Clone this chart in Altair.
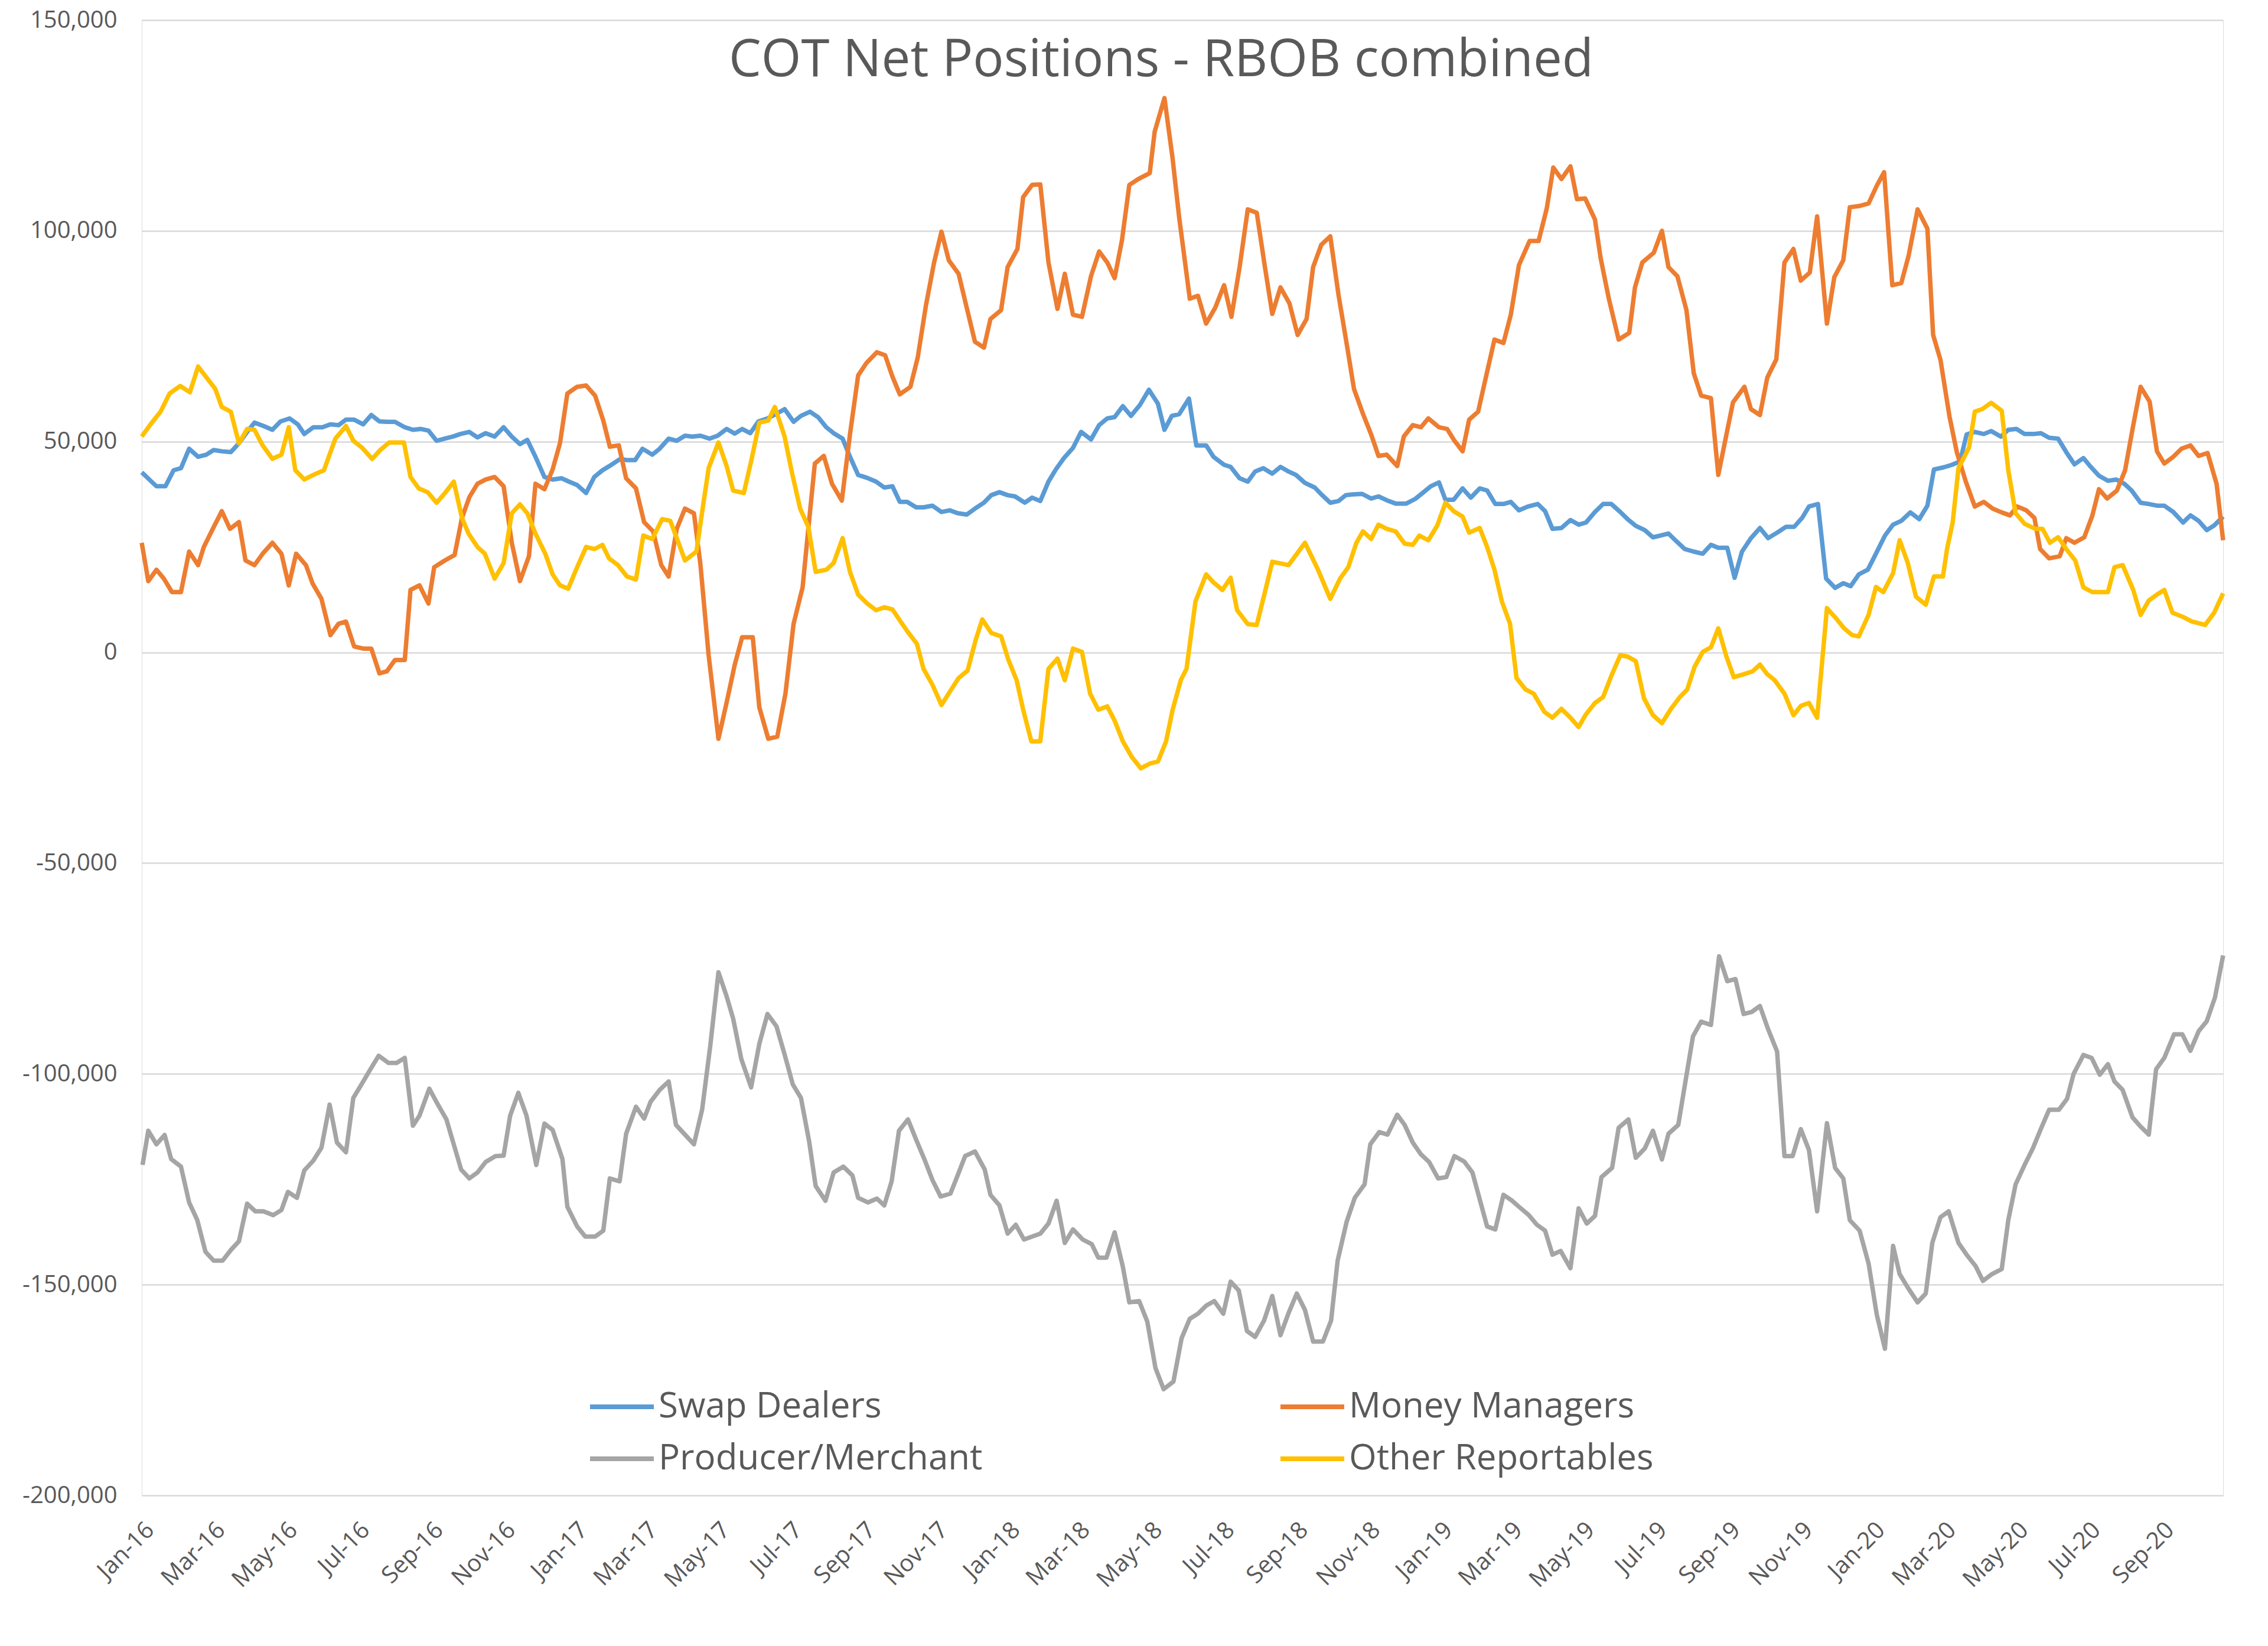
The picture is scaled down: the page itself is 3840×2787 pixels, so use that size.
import altair as alt
import pandas as pd

# Time positions are read in reporting steps from the first report (5 Jan 2016)
START = "2016-01-05"
STEP_DAYS = 6.895

TITLE = "COT Net Positions - RBOB combined"
SERIES = ["Swap Dealers", "Money Managers", "Producer/Merchant", "Other Reportables"]
COLORS = ["#5B9BD5", "#ED7D31", "#A5A5A5", "#FFC000"]
# legend fills column by column, so list it as it reads row by row in the reference
LEGEND_ORDER = ["Swap Dealers", "Producer/Merchant", "Money Managers", "Other Reportables"]

TICK_DATES = [
    "2016-01-05", "2016-03-05", "2016-05-05", "2016-07-05", "2016-09-05", "2016-11-05",
    "2017-01-05", "2017-03-05", "2017-05-05", "2017-07-05", "2017-09-05", "2017-11-05",
    "2018-01-05", "2018-03-05", "2018-05-05", "2018-07-05", "2018-09-05", "2018-11-05",
    "2019-01-05", "2019-03-05", "2019-05-05", "2019-07-05", "2019-09-05", "2019-11-05",
    "2020-01-05", "2020-03-05", "2020-05-05", "2020-07-05", "2020-09-05",
]
Y_TICKS = [-200000, -150000, -100000, -50000, 0, 50000, 100000, 150000]

SWAP = [
    (0, 42700), (1.8, 39400), (2.9, 39400), (3.9, 43200), (4.8, 43700), (5.8, 48300), (6.9, 46400),
    (7.9, 46900), (8.8, 48000), (9.8, 47700), (10.9, 47500), (11.9, 49600), (12.9, 52300), (13.8, 54500),
    (14.9, 53700), (16.0, 52800), (17.0, 54800), (18.1, 55500), (19.1, 54100), (19.9, 51800), (21.0, 53400),
    (22.1, 53400), (23.1, 54100), (24.1, 53900), (25.0, 55200), (26.0, 55200), (27.1, 54100), (28.1, 56300),
    (29.1, 54800), (30.0, 54700), (31.0, 54700), (32.2, 53400), (33.2, 52800), (34.2, 53000), (35.1, 52600),
    (36.1, 50200), (37.1, 50700), (38.1, 51200), (39.0, 51800), (40.1, 52300), (41.1, 51000), (42.1, 52000),
    (43.2, 51200), (44.3, 53400), (45.3, 51200), (46.3, 49400), (47.2, 50400), (48.2, 46400), (49.3, 41600),
    (50.3, 41000), (51.4, 41300), (52.3, 40500), (53.3, 39700), (54.4, 37800), (55.4, 41600), (56.4, 43200),
    (57.5, 44500), (58.6, 45900), (59.4, 45600), (60.4, 45600), (61.3, 48300), (62.5, 46900), (63.4, 48300),
    (64.5, 50700), (65.5, 50200), (66.5, 51400), (67.4, 51200), (68.4, 51400), (69.5, 50700), (70.5, 51400),
    (71.6, 53000), (72.6, 51900), (73.5, 53000), (74.5, 52000), (75.5, 54800), (76.6, 55500), (77.7, 56600),
    (78.7, 57700), (79.8, 54700), (80.7, 56100), (81.8, 57100), (82.8, 55800), (83.8, 53400), (84.7, 52000),
    (85.8, 50700), (86.7, 46400), (87.7, 42100), (88.8, 41400), (89.9, 40500), (90.9, 39100), (91.9, 39400),
    (92.8, 35700), (93.7, 35700), (94.8, 34400), (95.7, 34400), (96.8, 34800), (97.9, 33300), (98.9, 33700),
    (99.9, 33000), (101.0, 32700), (102.0, 34100), (103.1, 35500), (104.0, 37300), (105.0, 38000),
    (106.0, 37300), (106.9, 37000), (108.1, 35500), (109.0, 36700), (110.0, 35900), (111.0, 40500),
    (111.9, 43400), (112.9, 46100), (114.0, 48500), (115.0, 52300), (116.2, 50500), (117.2, 53900),
    (118.2, 55500), (119.1, 55800), (120.1, 58400), (121.1, 56100), (122.2, 58700), (123.3, 62300),
    (124.4, 59000), (125.2, 52800), (126.1, 56100), (127.0, 56500), (128.2, 60200), (129.1, 49100),
    (130.3, 49100), (131.2, 46400), (132.5, 44500), (133.3, 44000), (134.4, 41300), (135.4, 40500),
    (136.3, 42900), (137.3, 43700), (138.4, 42400), (139.4, 44000), (140.4, 42900), (141.3, 42100),
    (142.4, 40200), (143.6, 39100), (144.5, 37300), (145.5, 35500), (146.5, 35900), (147.4, 37300),
    (148.4, 37500), (149.4, 37600), (150.5, 36500), (151.4, 37000), (152.4, 36100), (153.5, 35300),
    (154.8, 35300), (155.9, 36400), (156.8, 37800), (157.8, 39400), (158.8, 40300), (159.6, 36200),
    (160.6, 36200), (161.7, 38900), (162.7, 36700), (163.8, 38900), (164.7, 38400), (165.7, 35200),
    (166.7, 35200), (167.6, 35700), (168.6, 33700), (169.7, 34600), (170.9, 35200), (171.8, 33500),
    (172.7, 29300), (173.8, 29500), (174.9, 31400), (175.9, 30300), (176.8, 30800), (177.9, 33300),
    (178.9, 35200), (179.9, 35200), (181.0, 33300), (181.9, 31600), (182.9, 30000), (184.0, 29000),
    (185.0, 27300), (185.9, 27700), (186.9, 28200), (187.9, 26300), (188.9, 24500), (190.0, 23900),
    (191.1, 23400), (192.1, 25500), (193.0, 24800), (194.1, 24800), (195.0, 17700), (195.9, 23900),
    (197.0, 27100), (198.1, 29500), (199.1, 27100), (200.2, 28400), (201.3, 29800), (202.3, 29800),
    (203.3, 32000), (204.1, 34600), (205.2, 35200), (206.2, 17500), (207.3, 15300), (208.3, 16400),
    (209.2, 15700), (210.2, 18500), (211.3, 19600), (212.3, 23400), (213.4, 27700), (214.4, 30300),
    (215.4, 31200), (216.5, 33200), (217.6, 31600), (218.6, 34800), (219.4, 43400), (220.6, 43900),
    (221.6, 44500), (222.6, 45300), (223.4, 51700), (224.4, 52300), (225.5, 51800), (226.4, 52500),
    (227.6, 51200), (228.5, 52800), (229.5, 53000), (230.5, 51800), (231.6, 51800), (232.5, 52000),
    (233.5, 50900), (234.6, 50700), (235.6, 47500), (236.6, 44600), (237.7, 46100), (238.6, 44000),
    (239.6, 41900), (240.7, 40700), (241.7, 41000), (242.7, 40000), (243.6, 38400), (244.7, 35500),
    (245.7, 35200), (246.7, 34800), (247.6, 34800), (248.7, 33300), (249.9, 30800), (250.8, 32500),
    (251.8, 31200), (252.8, 29000), (253.7, 30100), (254.8, 32200),
]

MONEY = [
    (0, 26000), (0.8, 16900), (1.8, 19600), (2.7, 17500), (3.7, 14300), (4.8, 14300), (5.8, 23900),
    (6.9, 20700), (7.6, 25000), (8.7, 29300), (9.8, 33500), (10.8, 29300), (11.9, 30900), (12.7, 21800),
    (13.8, 20700), (14.8, 23400), (16.0, 26000), (17.1, 23400), (18.0, 15900), (18.9, 23400), (20.1, 20700),
    (20.9, 16400), (22.0, 12700), (23.1, 4100), (24.1, 6800), (25.0, 7300), (26.0, 1400), (27.1, 900),
    (28.1, 900), (29.1, -5000), (30.0, -4500), (31.0, -1800), (32.2, -1800), (32.9, 14800), (34.0, 15900),
    (35.1, 11600), (35.8, 20200), (37.1, 21800), (38.3, 23100), (39.2, 31900), (40.1, 36800), (41.1, 40000),
    (42.1, 41000), (43.2, 41600), (44.3, 39400), (45.3, 26000), (46.3, 16900), (47.4, 22800), (48.2, 40000),
    (49.3, 38700), (50.3, 43400), (51.2, 49600), (52.1, 61400), (53.3, 63000), (54.4, 63300), (55.5, 60900),
    (56.5, 55000), (57.3, 48800), (58.4, 49100), (59.3, 41300), (60.5, 38900), (61.5, 30900), (62.6, 28700),
    (63.6, 20700), (64.5, 18000), (65.5, 29300), (66.5, 34100), (67.6, 33000), (68.4, 20700), (69.4, -700),
    (70.6, -20500), (71.6, -11900), (72.6, -2900), (73.5, 3600), (74.8, 3600), (75.6, -13000), (76.7, -20500),
    (77.8, -20000), (78.8, -9800), (79.8, 6800), (80.9, 15400), (81.6, 29300), (82.4, 44800), (83.5, 46600),
    (84.5, 40000), (85.7, 36000), (86.7, 51700), (87.7, 65700), (88.7, 68600), (90.0, 71200), (91.0, 70500),
    (91.9, 65400), (92.8, 61200), (94.1, 63000), (95.0, 70000), (96.0, 82300), (97.0, 92500), (97.9, 99800),
    (98.8, 93000), (100.0, 89800), (101.0, 81700), (102.0, 73700), (103.1, 72300), (103.9, 79100),
    (105.2, 81200), (106.0, 91400), (107.2, 95700), (107.9, 108000), (109.0, 110900), (110.0, 111000),
    (111.0, 92500), (112.1, 81500), (113.0, 89800), (114.0, 80100), (115.1, 79600), (116.2, 89200),
    (117.2, 95100), (118.2, 92500), (119.1, 88800), (120.0, 97800), (120.9, 110900), (122.0, 112300),
    (123.4, 113700), (124.0, 123500), (125.2, 131500), (126.2, 117100), (127.0, 103200), (128.3, 83900),
    (129.3, 84600), (130.3, 78000), (131.4, 81700), (132.5, 87100), (133.4, 79600), (134.4, 91400),
    (135.4, 105100), (136.5, 104300), (137.5, 91400), (138.4, 80300), (139.4, 86600), (140.5, 82800),
    (141.5, 75300), (142.6, 79100), (143.4, 91400), (144.4, 96700), (145.5, 98700), (146.5, 84900),
    (147.6, 72100), (148.4, 62500), (149.5, 56600), (150.5, 51700), (151.4, 46600), (152.4, 46900),
    (153.7, 44200), (154.5, 51200), (155.6, 53900), (156.6, 53400), (157.5, 55500), (158.8, 53400),
    (159.8, 53000), (160.7, 50200), (161.7, 47700), (162.5, 55200), (163.6, 57100), (164.6, 65700),
    (165.6, 74200), (166.7, 73400), (167.6, 80100), (168.6, 91900), (169.9, 97600), (171.0, 97600),
    (172.0, 105300), (172.8, 115000), (173.8, 112300), (174.9, 115300), (175.7, 107500), (176.7, 107700),
    (177.9, 102700), (178.6, 93500), (179.6, 83900), (180.8, 74200), (182.1, 75800), (182.8, 86600),
    (183.7, 92500), (185.1, 94800), (186.1, 100000), (186.9, 91400), (188.0, 89200), (189.1, 81200),
    (190.0, 66200), (190.9, 60900), (192.1, 60300), (193.0, 42100), (194.0, 51700), (194.8, 59300),
    (196.2, 63000), (197.0, 57700), (198.1, 56300), (199.0, 65200), (200.1, 69500), (201.1, 92500),
    (202.2, 95700), (203.1, 88200), (204.2, 90100), (205.1, 103400), (206.3, 78000), (207.2, 89000),
    (208.3, 93000), (209.1, 105600), (210.3, 105900), (211.4, 106500), (212.4, 110700), (213.3, 113900),
    (214.3, 87100), (215.4, 87600), (216.3, 94100), (217.4, 105100), (218.6, 100500), (219.3, 75300),
    (220.2, 69400), (221.3, 56000), (222.2, 47500), (223.3, 40500), (224.4, 34600), (225.5, 35700),
    (226.6, 34100), (227.7, 33200), (228.7, 32500), (229.6, 34600), (230.7, 33700), (231.7, 31900),
    (232.4, 24500), (233.5, 22300), (234.8, 22800), (235.6, 27100), (236.6, 26000), (237.8, 27300),
    (238.8, 32500), (239.6, 38700), (240.6, 36500), (241.8, 38400), (242.8, 43200), (243.8, 53900),
    (244.7, 63000), (245.8, 59500), (246.7, 47700), (247.6, 44800), (248.7, 46400), (249.7, 48300),
    (250.8, 49100), (251.8, 46600), (252.9, 47300), (254.0, 40000), (254.8, 26600),
]

PRODUCER = [
    (0.1, -121600), (0.8, -113500), (1.8, -116700), (2.8, -114500), (3.6, -120200), (4.8, -122000),
    (5.8, -130500), (6.8, -134700), (7.8, -142200), (8.8, -144300), (9.9, -144300), (10.9, -141800),
    (11.9, -139700), (12.9, -130800), (13.9, -132600), (14.9, -132600), (16.1, -133500), (17.1, -132300),
    (17.9, -128000), (19.0, -129400), (19.9, -122900), (21.0, -120600), (22.0, -117500), (23.0, -107300),
    (23.9, -116300), (25.0, -118600), (25.9, -105700), (26.9, -102500), (28.0, -98900), (29.0, -95700),
    (30.2, -97400), (31.2, -97400), (32.2, -96200), (33.2, -112300), (34.0, -109900), (35.2, -103500),
    (36.2, -107100), (37.3, -110800), (39.1, -122700), (40.1, -124800), (41.1, -123400), (42.1, -120900),
    (43.3, -119500), (44.3, -119400), (45.1, -109900), (46.1, -104500), (47.1, -109900), (48.3, -121600),
    (49.3, -111800), (50.3, -113300), (51.5, -120200), (52.1, -131500), (53.3, -136200), (54.3, -138600),
    (55.5, -138600), (56.5, -137200), (57.3, -124800), (58.5, -125500), (59.3, -114200), (60.5, -107800),
    (61.5, -110600), (62.3, -106600), (63.4, -103800), (64.5, -101800), (65.4, -112100), (66.4, -114200),
    (67.6, -116700), (68.6, -108500), (69.6, -93300), (70.6, -75900), (71.6, -81600), (72.4, -86900),
    (73.4, -96500), (74.6, -103200), (75.6, -92900), (76.6, -85800), (77.7, -88700), (78.7, -95400),
    (79.7, -102500), (80.7, -105700), (81.7, -116000), (82.5, -126600), (83.7, -130100), (84.7, -123400),
    (85.9, -122000), (87.0, -124100), (87.7, -129400), (88.9, -130500), (90.0, -129600), (90.9, -131200),
    (91.8, -125500), (92.7, -113500), (93.8, -110800), (94.8, -115600), (95.8, -120200), (96.8, -125200),
    (97.8, -129100), (99.0, -128400), (99.8, -124500), (100.8, -119500), (102.0, -118400), (103.2, -122700),
    (103.9, -128700), (105.0, -131200), (106.0, -137900), (107.0, -135800), (108.0, -139300), (110.0, -137900),
    (111.0, -135500), (112.0, -130100), (113.0, -140100), (114.0, -136900), (115.2, -139300), (116.3, -140400),
    (117.1, -143600), (118.1, -143600), (119.1, -137600), (120.1, -145700), (120.9, -154200), (122.1, -153900),
    (123.1, -158800), (124.1, -169800), (125.1, -174800), (126.3, -173000), (127.3, -162700), (128.3, -158100),
    (129.3, -156900), (130.3, -155000), (131.3, -153900), (132.4, -156900), (133.3, -149300), (134.3, -151400),
    (135.3, -161000), (136.3, -162400), (137.4, -158500), (138.4, -152700), (139.4, -162000), (140.4, -156700),
    (141.4, -152100), (142.4, -156000), (143.4, -163500), (144.6, -163500), (145.6, -158500), (146.4, -144300),
    (147.5, -135100), (148.5, -129400), (149.7, -126200), (150.4, -116700), (151.5, -113800), (152.5, -114400),
    (153.7, -109700), (154.6, -112100), (155.6, -116300), (156.6, -119100), (157.6, -120900), (158.7, -124800),
    (159.7, -124500), (160.7, -119500), (161.9, -120800), (162.9, -123400), (164.7, -136200), (165.7, -136900),
    (166.7, -128700), (167.7, -130000), (168.7, -131700), (169.8, -133500), (170.8, -135800), (171.8, -137200),
    (172.7, -142900), (173.7, -142000), (174.9, -146100), (175.9, -131900), (176.9, -135500), (177.9, -133700),
    (178.7, -124500), (180.0, -122300), (180.8, -112800), (182.0, -110800), (182.9, -119900), (184.0, -117700),
    (185.0, -113500), (186.1, -120300), (186.9, -114200), (188.1, -112100), (189.1, -100400), (189.9, -91100),
    (190.9, -87600), (192.1, -88400), (193.1, -72100), (194.1, -78000), (195.1, -77500), (196.1, -85800),
    (197.1, -85300), (198.1, -83900), (199.1, -89400), (200.2, -94700), (201.1, -119500), (202.1, -119500),
    (203.1, -113100), (204.1, -118100), (205.1, -132600), (206.3, -111700), (207.3, -122300), (208.3, -124800),
    (209.1, -134700), (210.3, -137200), (211.4, -145000), (212.4, -157100), (213.4, -165200), (214.4, -140800),
    (215.2, -147500), (216.2, -150700), (217.4, -154200), (218.4, -152100), (219.2, -140100), (220.2, -134000),
    (221.2, -132600), (222.4, -140100), (223.4, -142900), (224.5, -145600), (225.4, -149100), (226.5, -147500),
    (227.7, -146300), (228.5, -134700), (229.4, -126200), (230.5, -121600), (231.5, -117700), (232.5, -113000),
    (233.5, -108500), (234.7, -108500), (235.7, -105900), (236.5, -100000), (237.7, -95500), (238.7, -96200),
    (239.7, -100200), (240.7, -97700), (241.5, -101800), (242.5, -103800), (243.7, -110300), (244.6, -112300),
    (245.7, -114400), (246.6, -98900), (247.6, -96200), (248.8, -90600), (249.8, -90600), (250.8, -94500),
    (251.8, -89900), (252.8, -87500), (253.8, -81900), (254.8, -71900),
]

OTHER = [
    (0, 51200), (1.0, 53900), (2.3, 57100), (3.4, 61400), (4.7, 63200), (5.9, 61700), (6.9, 67800),
    (9.0, 62500), (9.8, 58200), (10.9, 57100), (11.9, 49600), (12.9, 53000), (13.8, 52800), (14.8, 49100),
    (16.0, 45900), (17.1, 46900), (18.0, 53400), (18.8, 43200), (19.9, 41000), (21.0, 42100), (22.3, 43200),
    (23.7, 50700), (25.0, 53700), (25.9, 50200), (27.0, 48500), (28.2, 45900), (29.2, 48000), (30.3, 49800),
    (32.1, 49800), (32.9, 41600), (33.9, 38900), (35.0, 38000), (36.1, 35500), (37.2, 38000), (38.2, 40500),
    (39.2, 31900), (40.0, 28200), (41.1, 25000), (42.0, 23400), (43.2, 17500), (44.3, 21200), (45.3, 33000),
    (46.3, 35100), (47.2, 33000), (48.2, 28200), (49.4, 23400), (50.3, 18500), (51.2, 15900), (52.2, 15100),
    (53.3, 20200), (54.4, 25000), (55.4, 24500), (56.4, 25500), (57.2, 22300), (58.3, 20700), (59.4, 18000),
    (60.5, 17300), (61.4, 27700), (62.5, 26900), (63.7, 31600), (64.7, 31200), (65.6, 26600), (66.5, 21800),
    (67.9, 23900), (68.7, 34600), (69.4, 43700), (70.6, 49800), (71.6, 44200), (72.4, 38400), (73.7, 37800),
    (74.6, 45300), (75.6, 54500), (76.7, 55000), (77.5, 58200), (78.7, 51200), (79.6, 42600), (80.6, 34100),
    (81.6, 29800), (82.5, 19100), (83.8, 19600), (84.7, 21200), (85.8, 27100), (86.7, 19100), (87.7, 13700),
    (88.8, 11600), (89.9, 10000), (90.9, 10700), (91.9, 10200), (92.9, 7300), (93.8, 4800), (94.9, 2000),
    (95.7, -3900), (96.8, -7700), (97.9, -12500), (99.1, -8800), (100.0, -6100), (101.1, -4300), (102.1, 3000),
    (102.9, 7800), (104.0, 4600), (105.2, 3800), (106.1, -1800), (107.1, -6600), (107.9, -13600),
    (108.9, -21100), (110.0, -21100), (111.0, -3900), (112.1, -1500), (113.0, -6600), (114.0, 900),
    (115.1, 100), (116.1, -9800), (117.1, -13600), (118.2, -12800), (119.1, -16200), (120.1, -21100),
    (121.2, -24800), (122.3, -27500), (123.4, -26400), (124.4, -25900), (125.4, -21100), (126.2, -13600),
    (127.2, -6600), (127.9, -3900), (129.0, 12100), (130.3, 18500), (131.2, 16600), (132.3, 14800),
    (133.3, 17700), (134.1, 10000), (135.4, 6700), (136.5, 6500), (137.5, 14300), (138.4, 21500),
    (140.4, 20700), (142.4, 26000), (144.0, 19600), (145.5, 12700), (146.7, 17500), (147.7, 20200),
    (148.7, 26000), (149.5, 28700), (150.5, 26900), (151.4, 30300), (152.4, 29300), (153.5, 28700),
    (154.6, 25800), (155.6, 25500), (156.4, 27700), (157.5, 26600), (158.6, 30100), (159.6, 35500),
    (160.6, 33500), (161.7, 32200), (162.5, 28400), (163.8, 29500), (164.7, 25000), (165.6, 19600),
    (166.5, 12100), (167.5, 6800), (168.3, -6100), (169.4, -8800), (170.4, -9800), (171.7, -14100),
    (172.7, -15500), (173.8, -13400), (174.9, -15500), (175.9, -17700), (176.8, -14700), (177.9, -12000),
    (178.9, -10600), (179.9, -5600), (181.0, -700), (181.9, -1000), (182.9, -2100), (183.9, -10900),
    (185.0, -14900), (186.1, -16800), (187.2, -13400), (188.3, -10600), (189.2, -8800), (190.1, -3400),
    (191.1, 100), (192.1, 1200), (193.0, 5700), (194.0, -1000), (194.9, -5900), (196.1, -5200),
    (197.2, -4500), (198.1, -2900), (199.0, -5200), (199.9, -6600), (201.1, -9800), (202.2, -14900),
    (203.1, -12700), (204.1, -12000), (205.1, -15500), (206.3, 10500), (207.4, 8100), (208.4, 5700),
    (209.4, 4100), (210.2, 3800), (211.4, 8900), (212.3, 15500), (213.2, 14300), (214.4, 18800),
    (215.2, 26600), (216.2, 21200), (217.2, 13200), (218.4, 11300), (219.4, 18000), (220.5, 18000),
    (221.0, 24500), (221.7, 30900), (222.4, 43700), (223.7, 48600), (224.4, 57100), (225.3, 57700),
    (226.4, 59200), (227.7, 57300), (228.5, 43200), (229.4, 33000), (230.5, 30500), (231.8, 29300),
    (232.7, 29300), (233.6, 26000), (234.6, 27300), (235.6, 24500), (236.7, 21800), (237.7, 15400),
    (238.8, 14300), (240.7, 14300), (241.5, 20200), (242.5, 20700), (243.8, 14800), (244.7, 8900),
    (245.7, 12300), (246.7, 13700), (247.6, 14800), (248.6, 9400), (249.9, 8400), (251.0, 7300),
    (252.6, 6500), (253.7, 9400), (254.8, 14000),
]

start = pd.Timestamp(START)
rows = []
for name, pts in zip(SERIES, [SWAP, MONEY, PRODUCER, OTHER]):
    for step, val in pts:
        rows.append({"date": start + pd.Timedelta(days=step * STEP_DAYS), "series": name, "value": val})
df = pd.DataFrame(rows)

tick_ms = [int(pd.Timestamp(d).value // 10**6) for d in TICK_DATES]
color_of = dict(zip(SERIES, COLORS))

FONT = "Open Sans"
GREY = "#595959"
W, H = 3524, 2498

lines = alt.Chart(df).mark_line(strokeWidth=7.5, strokeJoin="round").encode(
    x=alt.X(
        "date:T",
        scale=alt.Scale(nice=False),
        axis=alt.Axis(
            values=tick_ms, format="%b-%y", labelAngle=-45, labelFontSize=40,
            labelColor=GREY, labelFont=FONT, grid=False, domain=False, ticks=False,
            labelPadding=38, labelOverlap=False, title=None,
        ),
    ),
    y=alt.Y(
        "value:Q",
        scale=alt.Scale(domain=[-200000, 150000], nice=False, zero=False),
        axis=alt.Axis(
            values=Y_TICKS, labelExpr="replace(format(datum.value, ','), '\u2212', '-')",
            labelFontSize=40, labelColor=GREY, labelFont=FONT, grid=True,
            gridColor="#D9D9D9", gridWidth=2.5, domain=False, ticks=False,
            labelPadding=42, title=None,
        ),
    ),
    color=alt.Color(
        "series:N",
        scale=alt.Scale(domain=LEGEND_ORDER, range=[color_of[s] for s in LEGEND_ORDER]),
        legend=alt.Legend(
            title=None, orient="none", legendX=755, legendY=2290, columns=2,
            symbolType="stroke", symbolSize=11664, symbolStrokeWidth=8,
            labelFontSize=60, labelColor=GREY, labelFont=FONT, labelOffset=4,
            labelLimit=2000, columnPadding=488, rowPadding=-10, padding=0,
        ),
    ),
)

title = alt.Chart(pd.DataFrame({"title": [TITLE]})).mark_text(
    font=FONT, fontSize=87, color=GREY, align="center", baseline="middle",
).encode(
    text="title:N",
    x=alt.value(W / 2 - 36),
    y=alt.value(69),
)

chart = alt.layer(lines, title).properties(
    width=W,
    height=H,
    padding={"left": 232, "top": 26, "right": 60, "bottom": 240},
    autosize=alt.AutoSizeParams(type="none"),
).configure_view(stroke=None).configure(background="white")

chart.save("out.html", embed_options={"renderer": "svg", "actions": False})
